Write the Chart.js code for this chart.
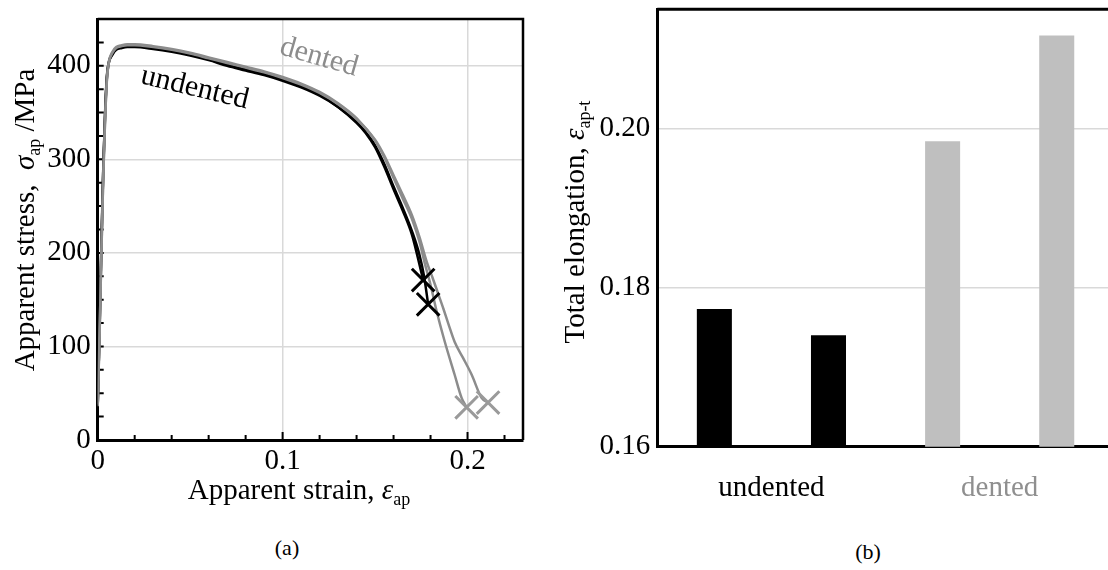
<!DOCTYPE html>
<html>
<head>
<meta charset="utf-8">
<script src="https://cdn.jsdelivr.net/npm/chart.js@4.4.0/dist/chart.umd.min.js"></script>
<style>
  html, body { margin: 0; padding: 0; background: #fff; }
  body { width: 1108px; height: 570px; overflow: hidden; position: relative; font-family: 'Liberation Serif', serif; }
  #chartA { position: absolute; left: 0; top: 0; }
  #chartB { position: absolute; left: 550px; top: 0; }
  .cap { position: absolute; font-size: 22px; line-height: 24px; color: #000; transform: translateX(-50%); }
</style>
</head>
<body>
<canvas id="chartA" width="545" height="520"></canvas>
<canvas id="chartB" width="580" height="520"></canvas>
<div class="cap" style="left:287px; top:536px;">(a)</div>
<div class="cap" style="left:868px; top:540px;">(b)</div>
<script>
const SERIF = "'Liberation Serif', 'Times New Roman', serif";
const FS = 29;

// (a) apparent stress-strain curves
const undented1Strain = [0, 0.001, 0.002, 0.003, 0.004, 0.005, 0.006, 0.008, 0.010, 0.013, 0.016, 0.020, 0.030, 0.040, 0.050, 0.060, 0.070, 0.080, 0.090, 0.100, 0.110, 0.120, 0.130, 0.140, 0.145, 0.150, 0.155, 0.160, 0.165, 0.170, 0.173, 0.176];
const undented1Stress = [35, 120, 210, 290, 350, 390, 404, 413, 418, 420, 421, 421, 419, 416, 412, 407, 401, 396, 391, 385, 378, 369, 356, 339, 328, 313, 292, 268, 245, 219, 196, 171];
const undented2Strain = [0, 0.001, 0.002, 0.003, 0.004, 0.005, 0.006, 0.008, 0.010, 0.013, 0.016, 0.020, 0.030, 0.040, 0.050, 0.060, 0.070, 0.080, 0.090, 0.100, 0.110, 0.120, 0.130, 0.140, 0.145, 0.150, 0.155, 0.160, 0.165, 0.170, 0.174, 0.1765, 0.1787];
const undented2Stress = [37, 118, 205, 288, 348, 388, 403, 412, 417, 419, 420, 420, 418, 415, 411, 406, 400, 395, 390, 384, 377, 368, 356, 340, 329, 315, 295, 271, 248, 223, 198, 175, 145];
const dented1Strain = [0, 0.001, 0.002, 0.003, 0.004, 0.005, 0.006, 0.008, 0.010, 0.013, 0.016, 0.020, 0.030, 0.040, 0.050, 0.060, 0.070, 0.080, 0.090, 0.100, 0.110, 0.120, 0.130, 0.140, 0.150, 0.155, 0.160, 0.165, 0.170, 0.174, 0.177, 0.180, 0.183, 0.1877, 0.193, 0.1968, 0.1995];
const dented1Stress = [38, 112, 200, 282, 343, 386, 404, 415, 420, 422, 423, 423, 421, 418, 414, 409, 404, 399, 394, 388, 381, 372, 360, 344, 320, 302, 280, 258, 236, 212, 188, 166, 140, 105, 70, 45, 35];
const dented2Strain = [0, 0.001, 0.002, 0.003, 0.004, 0.005, 0.006, 0.008, 0.010, 0.013, 0.016, 0.020, 0.030, 0.040, 0.050, 0.060, 0.070, 0.080, 0.090, 0.100, 0.110, 0.120, 0.130, 0.140, 0.150, 0.155, 0.160, 0.165, 0.170, 0.174, 0.178, 0.181, 0.184, 0.187, 0.190, 0.193, 0.1975, 0.2022, 0.2076, 0.2111];
const dented2Stress = [36, 110, 198, 280, 342, 385, 403, 414, 419, 421, 422, 422, 420, 417, 413, 408, 403, 398, 393, 387, 380, 371, 359, 343, 321, 304, 283, 262, 240, 217, 190, 174, 157, 140, 122, 105, 88, 70, 45, 40];

// fracture points
const undentedBreakStrain = [0.176, 0.1787];
const undentedBreakStress = [171, 145];
const dentedBreakStrain = [0.1995, 0.2111];
const dentedBreakStress = [35, 40];

// in-plot curve labels
const curveLabels = ['undented', 'dented'];
const curveLabelStrain = [0.0515, 0.1185];
const curveLabelStress = [368, 401];

// inward tick marks on (a)
const stressTickMarks = [25, 50, 75, 100, 125, 150, 175, 200, 225, 250, 275, 300, 325, 350, 375, 400, 425];
const strainTickMarks = [0.02, 0.04, 0.06, 0.08, 0.1, 0.12, 0.14, 0.16, 0.18, 0.2, 0.22];
const strainMajor = [0.1, 0.2];

// (b) total elongation
const specimens = ['undented 1', 'undented 2', 'dented 1', 'dented 2'];
const elongation = [0.1773, 0.1740, 0.1984, 0.2117];
const groups = ['undented', 'dented'];

const pts = (xs, ys) => xs.map((x, i) => ({ x, y: ys[i] }));

// text with italic symbol and subscript, drawn around a baseline midpoint
function drawRich(ctx, parts, size, cx, cy, angle, color) {
    ctx.save();
    ctx.translate(cx, cy);
    ctx.rotate(angle);
    const fonts = parts.map(p => (p.it ? 'italic ' : '') + (p.sub ? Math.round(size * 0.62) : size) + 'px ' + SERIF);
    let w = 0;
    const ws = parts.map((p, i) => { ctx.font = fonts[i]; const m = ctx.measureText(p.t).width; w += m; return m; });
    let x = -w / 2;
    ctx.fillStyle = color;
    ctx.textBaseline = 'alphabetic';
    ctx.textAlign = 'left';
    parts.forEach((p, i) => { ctx.font = fonts[i]; ctx.fillText(p.t, x, p.sub ? size * 0.22 : 0); x += ws[i]; });
    ctx.restore();
}

const tickFont = { family: SERIF, size: FS };

const decorA = {
    id: 'decorA',
    beforeDatasetsDraw(chart) {
        const { ctx, chartArea: a, scales: { x, y } } = chart;
        ctx.save();
        ctx.strokeStyle = '#000';
        ctx.lineWidth = 2.5;
        ctx.beginPath();
        ctx.moveTo(a.left, a.top); ctx.lineTo(a.right, a.top); ctx.lineTo(a.right, a.bottom);
        ctx.stroke();
        ctx.lineWidth = 2;
        ctx.beginPath();
        stressTickMarks.forEach(v => { const py = y.getPixelForValue(v); ctx.moveTo(a.left, py); ctx.lineTo(a.left + 6, py); });
        strainTickMarks.forEach(v => {
            const px = x.getPixelForValue(v);
            const len = strainMajor.some(m => Math.abs(m - v) < 1e-9) ? 8 : 5;
            ctx.moveTo(px, a.bottom); ctx.lineTo(px, a.bottom - len);
        });
        ctx.stroke();
        ctx.restore();
    },
    afterDraw(chart) {
        const { ctx, scales: { x, y } } = chart;
        // curve labels
        const angles = [13.5, 16];
        const colours = ['#000', '#8c8c8c'];
        curveLabels.forEach((t, i) => {
            drawRich(ctx, [{ t }], 30, x.getPixelForValue(curveLabelStrain[i]), y.getPixelForValue(curveLabelStress[i]), angles[i] * Math.PI / 180, colours[i]);
        });
        // axis titles
        drawRich(ctx, [{ t: 'Apparent strain, ' }, { t: 'ε', it: true }, { t: 'ap', sub: true }], FS, 299, 499, 0, '#000');
        drawRich(ctx, [{ t: 'Apparent stress,  ' }, { t: 'σ', it: true }, { t: 'ap', sub: true }, { t: ' /MPa' }], FS, 34, 220, -Math.PI / 2, '#000');
    }
};

new Chart(document.getElementById('chartA'), {
    type: 'scatter',
    data: {
        datasets: [
            { data: pts(undentedBreakStrain, undentedBreakStress), pointStyle: 'crossRot', pointRadius: 16, pointBorderWidth: 3, borderColor: '#000', backgroundColor: '#000', showLine: false },
            { data: pts(dentedBreakStrain, dentedBreakStress), pointStyle: 'crossRot', pointRadius: 16, pointBorderWidth: 3, borderColor: '#9a9a9a', backgroundColor: '#9a9a9a', showLine: false },
            { data: pts(dented1Strain, dented1Stress), showLine: true, borderColor: '#8c8c8c', borderWidth: 2.5, pointRadius: 0, cubicInterpolationMode: 'monotone' },
            { data: pts(dented2Strain, dented2Stress), showLine: true, borderColor: '#8c8c8c', borderWidth: 2.5, pointRadius: 0, cubicInterpolationMode: 'monotone' },
            { data: pts(undented1Strain, undented1Stress), showLine: true, borderColor: '#000', borderWidth: 2.5, pointRadius: 0, cubicInterpolationMode: 'monotone' },
            { data: pts(undented2Strain, undented2Stress), showLine: true, borderColor: '#000', borderWidth: 2.5, pointRadius: 0, cubicInterpolationMode: 'monotone' }
        ]
    },
    options: {
        responsive: false,
        animation: false,
        layout: { padding: { top: 9.5, right: 22, left: 0, bottom: 0 } },
        plugins: { legend: { display: false }, tooltip: { enabled: false } },
        scales: {
            x: {
                type: 'linear', min: 0, max: 0.23,
                ticks: { stepSize: 0.1, includeBounds: false, font: tickFont, color: '#000', padding: 4, maxRotation: 0,
                    callback: v => v === 0 ? '0' : String(+v.toFixed(1)) },
                grid: { color: '#d9d9d9', lineWidth: 1.5, drawTicks: false },
                border: { color: '#000', width: 3 },
                afterFit: s => { s.height = 80; s.paddingLeft = 0; s.paddingRight = 0; }
            },
            y: {
                min: 0, max: 450,
                ticks: { stepSize: 100, includeBounds: false, font: tickFont, color: '#000', padding: 7 },
                grid: { color: '#d9d9d9', lineWidth: 1.5, drawTicks: false },
                border: { color: '#000', width: 3 },
                afterFit: s => { s.width = 97.7; s.paddingTop = 0; s.paddingBottom = 0; }
            }
        }
    },
    plugins: [decorA]
});

const decorB = {
    id: 'decorB',
    afterDraw(chart) {
        const { ctx, chartArea: a } = chart;
        ctx.save();
        ctx.strokeStyle = '#000';
        ctx.lineWidth = 3;
        ctx.beginPath();
        ctx.moveTo(a.left, a.top); ctx.lineTo(a.right + 5, a.top);
        ctx.stroke();
        ctx.restore();
        drawRich(ctx, [{ t: 'Total elongation, ' }, { t: 'ε', it: true }, { t: 'ap-t', sub: true }], FS, 34, 222, -Math.PI / 2, '#000');
    }
};

const barColours = ['#000', '#000', '#bfbfbf', '#bfbfbf'];
const groupColours = ['#000', '#8f8f8f'];

new Chart(document.getElementById('chartB'), {
    type: 'bar',
    data: {
        labels: specimens,
        datasets: [{ data: elongation, backgroundColor: barColours, barPercentage: 0.307, categoryPercentage: 1, xAxisID: 'x' }]
    },
    options: {
        responsive: false,
        animation: false,
        layout: { padding: { top: 9.3, right: 16.2, left: 0, bottom: 0 } },
        plugins: { legend: { display: false }, tooltip: { enabled: false } },
        scales: {
            x: { display: false, offset: true },
            g: {
                type: 'category', axis: 'x', position: 'bottom', labels: groups, offset: true,
                grid: { display: false, drawTicks: false },
                border: { display: true, color: '#000', width: 3 },
                ticks: { color: c => groupColours[c.index], font: tickFont, padding: 24, maxRotation: 0 },
                afterFit: s => { s.height = 73.3; s.paddingLeft = 0; s.paddingRight = 0; }
            },
            y: {
                min: 0.16, max: 0.215,
                ticks: { stepSize: 0.02, includeBounds: false, font: tickFont, color: '#000', padding: 7, callback: v => v.toFixed(2) },
                grid: { color: '#d9d9d9', lineWidth: 1.5, drawTicks: false },
                border: { color: '#000', width: 3 },
                afterFit: s => { s.width = 107.3; s.paddingTop = 0; s.paddingBottom = 0; }
            }
        }
    },
    plugins: [decorB]
});
</script>
</body>
</html>
